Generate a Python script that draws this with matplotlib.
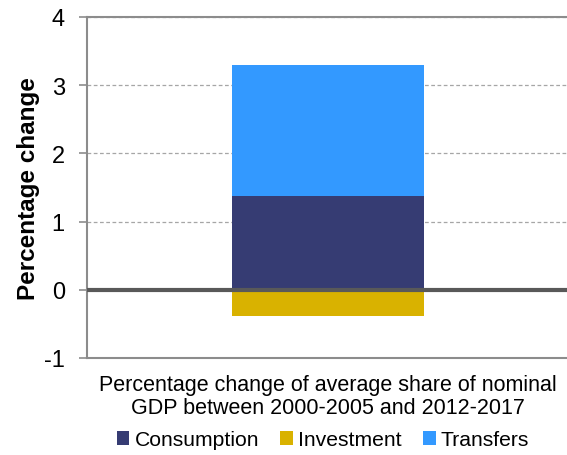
import matplotlib
matplotlib.use('Agg')
import matplotlib.pyplot as plt
import numpy as np

plt.rcParams['font.family'] = ['Liberation Sans', 'DejaVu Sans']
plt.rcParams['axes.unicode_minus'] = False

category = ['Percentage change of average share of nominal\nGDP between 2000-2005 and 2012-2017']
consumption = [1.38]
investment = [-0.39]
transfers = [1.92]

colors = {'Consumption': '#363c73', 'Investment': '#d9b200', 'Transfers': '#3399ff'}

fig = plt.figure(figsize=(5.67, 4.56), dpi=100)
ax = fig.add_axes([87 / 567, 1 - 359 / 456, (569 - 87) / 567, (359 - 18) / 456])

x = np.arange(len(category))
w = 0.4
ax.bar(x, consumption, w, color=colors['Consumption'], label='Consumption', zorder=2)
ax.bar(x, investment, w, color=colors['Investment'], label='Investment', zorder=2)
ax.bar(x, transfers, w, bottom=consumption, color=colors['Transfers'], label='Transfers', zorder=2)

ax.axhline(0, color='#595959', linewidth=3, zorder=3)
ax.set_xlim(-0.5, 0.5)
ax.set_ylim(-1, 4)
ax.set_yticks([-1, 0, 1, 2, 3, 4])
ax.yaxis.grid(True, linestyle=(0, (3, 2)), color='#a6a6a6', linewidth=0.9, zorder=0)
ax.set_xticks([])

for s in ['left', 'top', 'bottom']:
    ax.spines[s].set_color('#8c8c8c')
    ax.spines[s].set_linewidth(1.5)
ax.spines['right'].set_visible(False)
ax.tick_params(axis='y', labelsize=17, color='#8c8c8c', length=6, width=1.2, pad=10)

ax.set_ylabel('Percentage change', fontsize=17.5, fontweight='bold', labelpad=3)
fig.text(328 / 567, 1 - 397 / 456, category[0], ha='center', va='center',
         fontsize=15.5, linespacing=1.1)

ax.legend(loc='center', bbox_to_anchor=(323 / 567, 1 - 441 / 456), bbox_transform=fig.transFigure,
          ncol=3, frameon=False, fontsize=15.2, handlelength=0.6, handleheight=0.6,
          handletextpad=0.25, columnspacing=1.0)

fig.savefig('out.png', dpi=100)
